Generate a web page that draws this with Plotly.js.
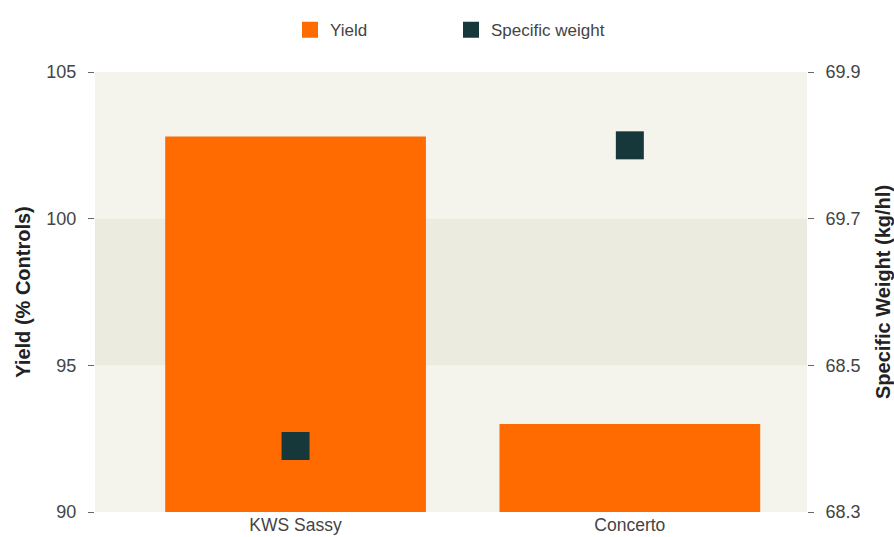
<!DOCTYPE html>
<html>
<head>
<meta charset="utf-8">
<script src="https://cdn.plot.ly/plotly-3.0.1.min.js"></script>
<style>html,body{margin:0;padding:0;background:#fff;}#chart{width:894px;height:537px;}</style>
</head>
<body>
<div id="chart"></div>
<script>
const categories = ["KWS Sassy", "Concerto"];
const yieldValues = [102.8, 93.0];
const specificWeight = [68.39, 69.80];
const yieldTicks = [90, 95, 100, 105];
const weightTickLabels = ["68.3", "68.5", "69.7", "69.9"];
const weightTicks = weightTickLabels.map(Number);
const controlBand = [95, 100];

// map specific weight onto the (piecewise) right axis defined by its tick labels
function weightToAxis(v) {
  for (let i = 0; i < weightTicks.length - 1; i++) {
    const a = weightTicks[i], b = weightTicks[i + 1];
    if (v >= a && v <= b) {
      return yieldTicks[i] + (v - a) / (b - a) * (yieldTicks[i + 1] - yieldTicks[i]);
    }
  }
  return null;
}

const font = "Liberation Sans, Arial, sans-serif";
const orange = "#ff6b00";
const dark = "#17383a";

const traces = [
  {
    type: "bar", name: "Yield", x: categories, y: yieldValues,
    width: 0.78, marker: {color: orange}, yaxis: "y", showlegend: false
  },
  {
    // legend entry for the bars (square swatch like the reference)
    type: "scatter", mode: "markers", name: "Yield", x: [null], y: [null],
    marker: {symbol: "square", size: 18, color: orange}, yaxis: "y", showlegend: true
  },
  {
    type: "scatter", mode: "markers", name: "Specific weight",
    x: categories, y: specificWeight.map(weightToAxis),
    customdata: specificWeight,
    marker: {symbol: "square", size: 28, color: dark}, yaxis: "y2"
  }
];

const layout = {
  width: 894, height: 537,
  margin: {l: 95, r: 87, t: 67, b: 25},
  paper_bgcolor: "#ffffff",
  plot_bgcolor: "#f4f4ec",
  font: {family: font, size: 17, color: "#444"},
  showlegend: true,
  legend: {orientation: "h", x: 0.5, xanchor: "center", y: 1.095, yanchor: "middle",
           font: {size: 17, color: "#444"}, entrywidth: 116, entrywidthmode: "pixels"},
  xaxis: {type: "category", range: [-0.6, 1.53], showgrid: false, zeroline: false,
          ticks: "", tickfont: {size: 17.5, color: "#444"}, showline: false},
  yaxis: {range: [90, 105], tickvals: yieldTicks, ticktext: yieldTicks.map(String),
          showgrid: false, zeroline: false, ticks: "outside", ticklen: 6, tickcolor: "#666",
          ticklabelstandoff: 8,
          tickfont: {size: 18, color: "#444"},
          title: {text: "<b>Yield (% Controls)</b>", font: {size: 20, color: "#222"}, standoff: 10}},
  yaxis2: {range: [90, 105], overlaying: "y", side: "right",
           tickvals: yieldTicks, ticktext: weightTickLabels,
           showgrid: false, zeroline: false, ticks: "outside", ticklen: 6, tickcolor: "#666",
           ticklabelstandoff: 8,
           tickfont: {size: 18, color: "#444"},
           title: {text: "<b>Specific Weight (kg/hl)</b>", font: {size: 20, color: "#222"}, standoff: 22}},
  shapes: [{type: "rect", xref: "paper", yref: "y", x0: 0, x1: 1,
            y0: controlBand[0], y1: controlBand[1], fillcolor: "#ecebdf",
            line: {width: 0}, layer: "below"}]
};

Plotly.newPlot("chart", traces, layout, {displayModeBar: false, staticPlot: true});
</script>
</body>
</html>
